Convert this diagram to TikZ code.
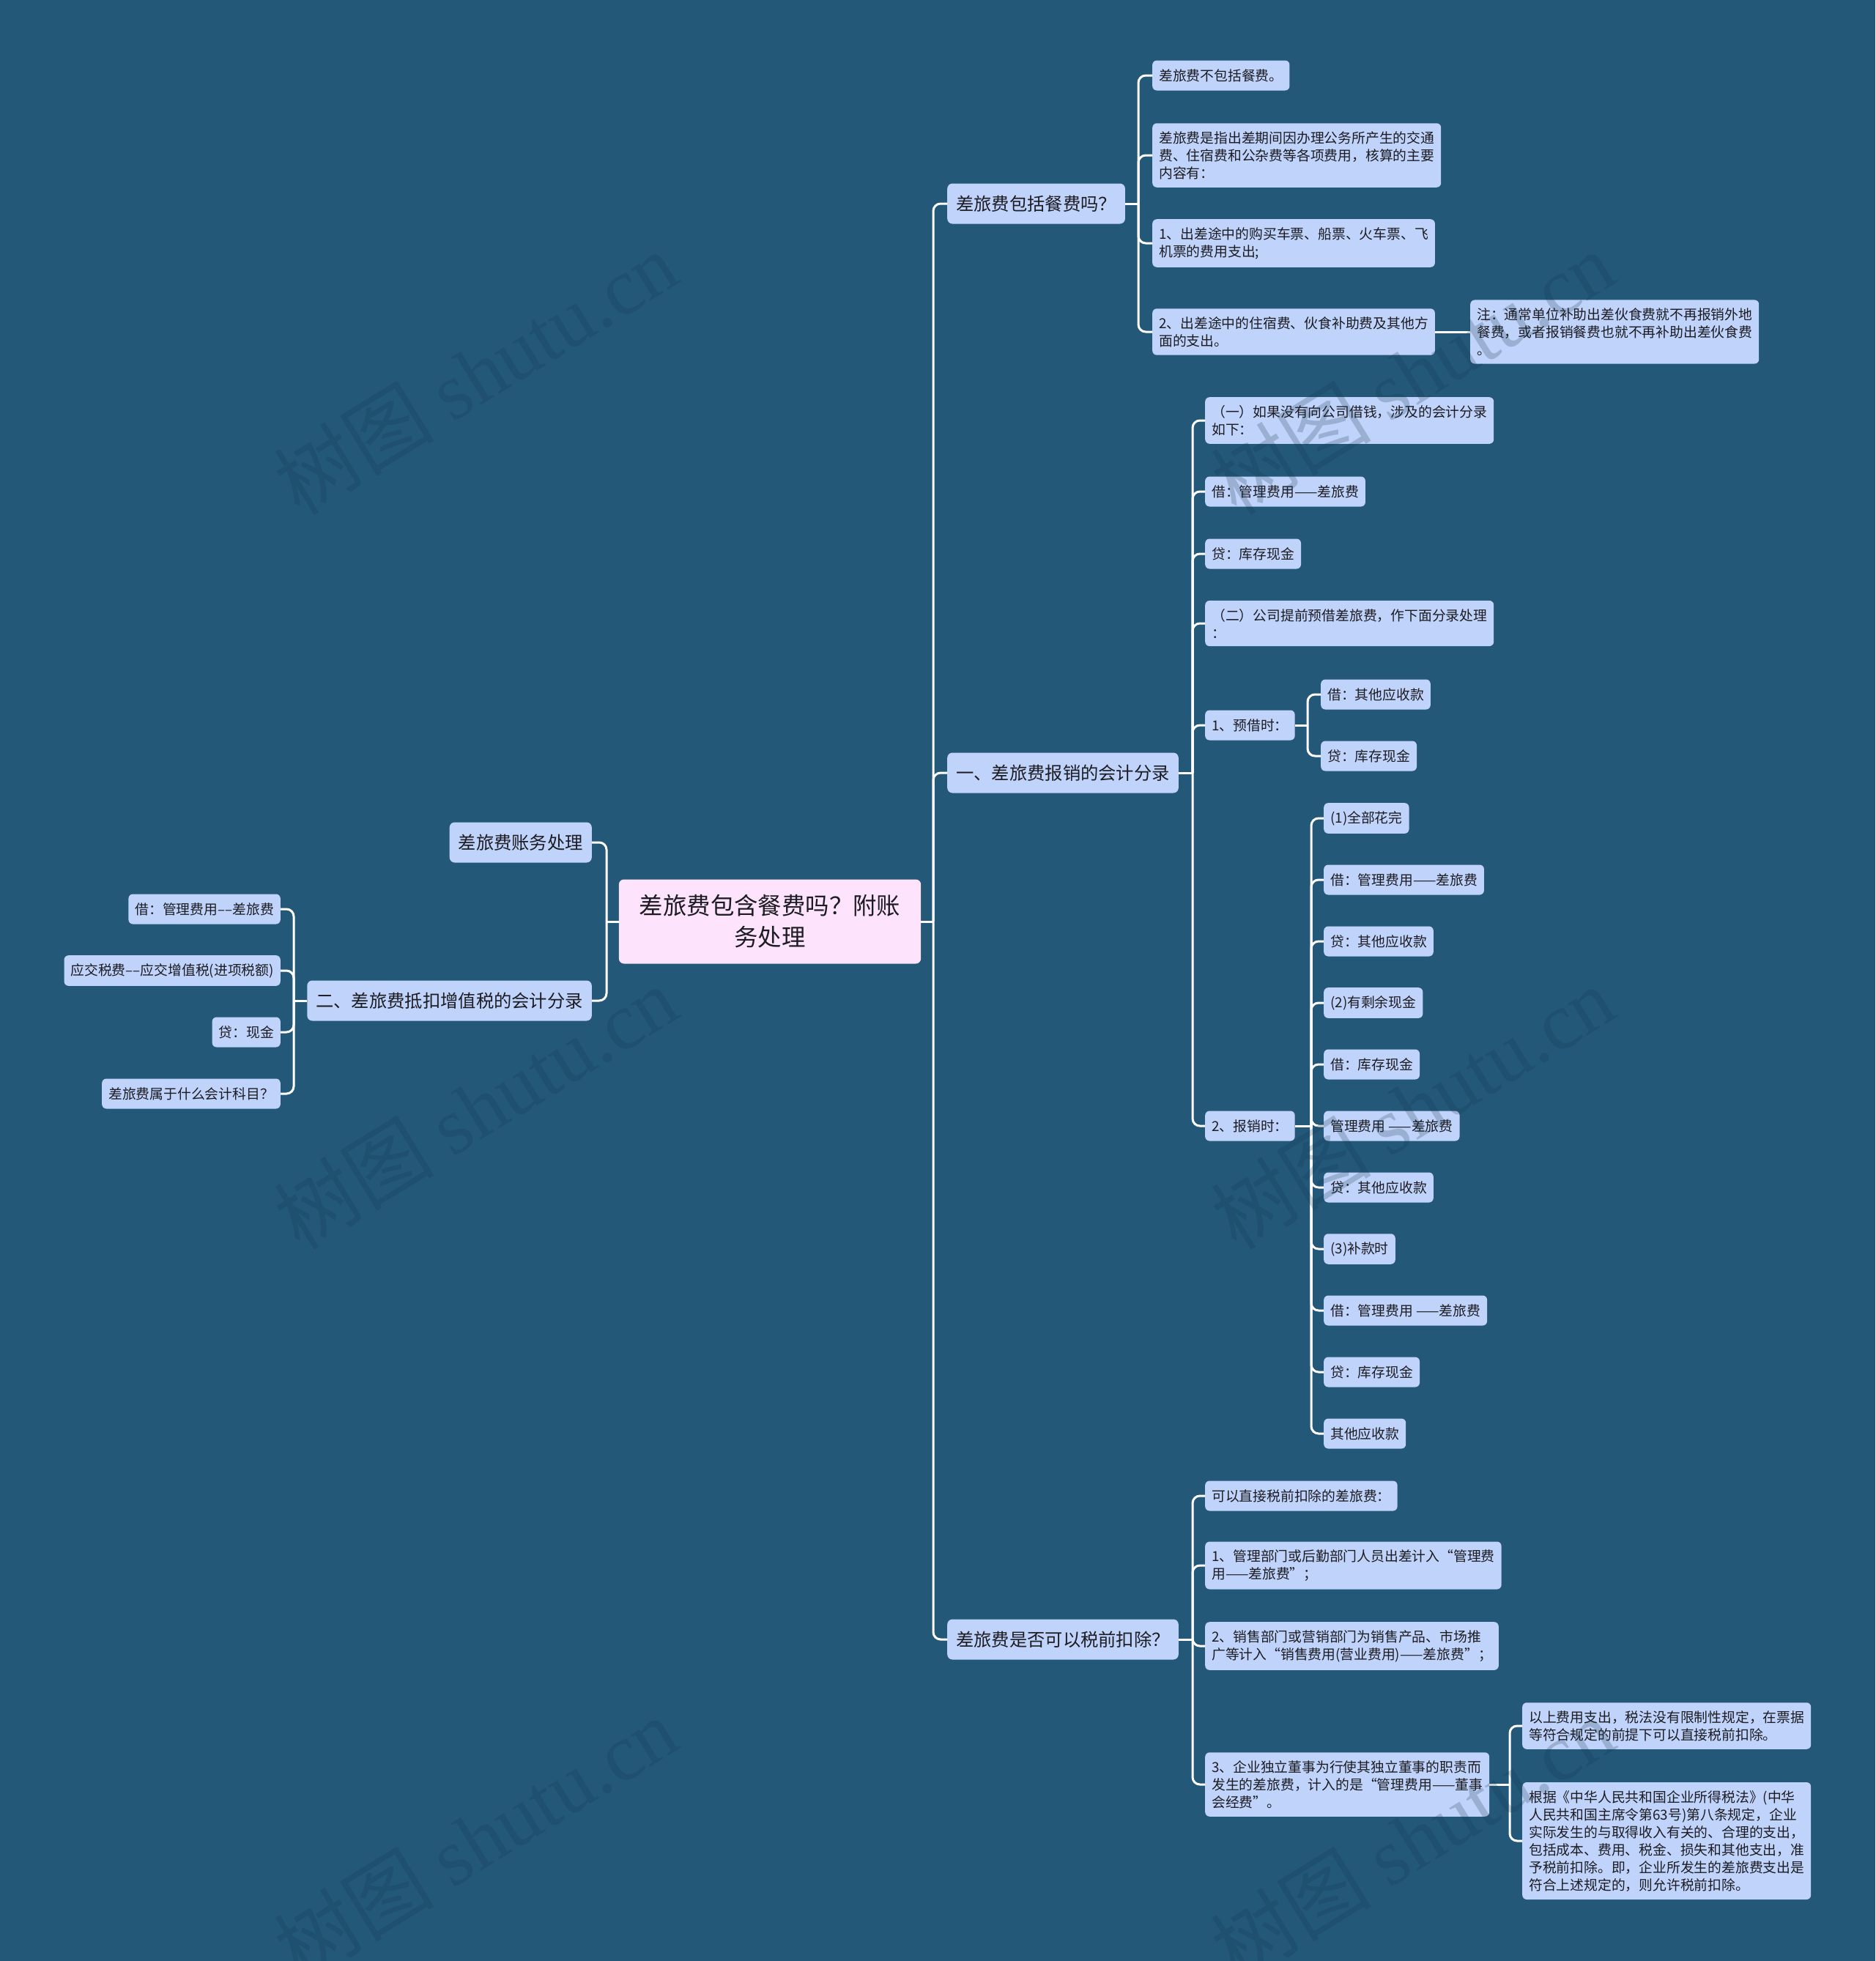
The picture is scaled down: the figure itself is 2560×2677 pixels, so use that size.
\documentclass[tikz,border=0pt]{standalone}
\usepackage{fontspec}
\newfontfamily\cjk{Noto Sans CJK SC}
\newfontfamily\wmserif{Liberation Serif}
\usepackage{tikz}
\usetikzlibrary{positioning,calc}
\definecolor{mapbg}{RGB}{35,88,121}
\definecolor{leafblue}{RGB}{192,211,250}
\definecolor{rootpink}{RGB}{253,227,252}
\definecolor{inkdark}{RGB}{28,28,34}
\definecolor{wmshade}{RGB}{20,52,76}
\tikzset{
  topic/.style={rectangle, rounded corners=7pt, fill=rootpink, text=inkdark,
                inner xsep=28pt, inner ysep=21pt, align=center,
                font=\cjk\fontsize{32.4}{43}\selectfont},
  branch/.style={rectangle, rounded corners=7pt, fill=leafblue, text=inkdark,
                 inner xsep=12pt, inner ysep=15pt, minimum height=55pt,
                 font=\cjk\fontsize{24.3}{30}\selectfont},
  leaf/.style={rectangle, rounded corners=6pt, fill=leafblue, text=inkdark,
               inner xsep=9pt, inner ysep=11pt, minimum height=41pt, align=left,
               font=\cjk\fontsize{18.8}{24}\selectfont},
  link/.style={draw=white, line width=3pt, rounded corners=10pt},
  wmark/.style={text=wmshade, opacity=0.22, rotate=31.6,
                font=\cjk\fontsize{110}{110}\selectfont},
}
\newcommand{\wmtext}{树图 {\wmserif shutu.cn}}

\begin{document}
\begin{tikzpicture}[x=1pt,y=-1pt]
  \fill[mapbg] (0,0) rectangle (2560,2677);
  \useasboundingbox (0,0) rectangle (2560,2677);
  % centre
  \node[topic] (root) at (1051,1258) {差旅费包含餐费吗？附账\\务处理};
  \coordinate (rootR) at (1274,1258);
  \coordinate (rootL) at (828,1258);
  % right branches
  \node[branch, anchor=west] (qa) at (1293,278)  {差旅费包括餐费吗？};
  \node[branch, anchor=west] (qb) at (1293,1055) {一、差旅费报销的会计分录};
  \node[branch, anchor=west] (qc) at (1293,2238) {差旅费是否可以税前扣除？};
  % left branches
  \node[branch, anchor=east] (qd) at (808,1150) {差旅费账务处理};
  \node[branch, anchor=east] (qe) at (808,1366) {二、差旅费抵扣增值税的会计分录};
  \draw[link] (root.east) -- (rootR);
  \draw[link] (root.west) -- (rootL);
  \foreach \n in {qa,qb,qc} \draw[link] (rootR) |- (\n.west);
  \foreach \n in {qd,qe} \draw[link] (rootL) |- (\n.east);

  % meals or not
  \node[leaf, anchor=west] (a1) at (1573,103) {差旅费不包括餐费。};
  \node[leaf, anchor=west] (a2) at (1573,212) {差旅费是指出差期间因办理公务所产生的交通\\费、住宿费和公杂费等各项费用，核算的主要\\内容有：};
  \node[leaf, anchor=west] (a3) at (1573,332) {1、出差途中的购买车票、船票、火车票、飞\\机票的费用支出;};
  \node[leaf, anchor=west] (a4) at (1573,453) {2、出差途中的住宿费、伙食补助费及其他方\\面的支出。};
  \node[leaf, anchor=west] (a4n) at (2007,453) {注：通常单位补助出差伙食费就不再报销外地\\餐费，或者报销餐费也就不再补助出差伙食费\\。};
  \coordinate (aT) at (1554,278);
  \draw[link] (qa.east) -- (aT);
  \foreach \n in {a1,a2,a3,a4} \draw[link] (aT) |- (\n.west);
  \draw[link] (a4.east) -- (a4n.west);

  % reimbursement entries
  \node[leaf, anchor=west] (b1) at (1645,574) {（一）如果没有向公司借钱，涉及的会计分录\\如下：};
  \node[leaf, anchor=west] (b2) at (1645,671) {借：管理费用——差旅费};
  \node[leaf, anchor=west] (b3) at (1645,756) {贷：库存现金};
  \node[leaf, anchor=west] (b4) at (1645,851) {（二）公司提前预借差旅费，作下面分录处理\\：};
  \node[leaf, anchor=west] (b5) at (1645,990) {1、预借时：};
  \node[leaf, anchor=west] (b6) at (1645,1537) {2、报销时：};
  \coordinate (bT) at (1628,1055);
  \draw[link] (qb.east) -- (bT);
  \foreach \n in {b1,b2,b3,b4,b5,b6} \draw[link] (bT) |- (\n.west);
  % advance
  \node[leaf, anchor=west] (b5a) at (1803,948)  {借：其他应收款};
  \node[leaf, anchor=west] (b5b) at (1803,1032) {贷：库存现金};
  \coordinate (b5T) at (1785,990);
  \draw[link] (b5.east) -- (b5T);
  \foreach \n in {b5a,b5b} \draw[link] (b5T) |- (\n.west);
  % settlement
  \foreach \t [count=\i from 0] in {{(1)全部花完},{借：管理费用——差旅费},{贷：其他应收款},
      {(2)有剩余现金},{借：库存现金},{管理费用 ——差旅费},{贷：其他应收款},
      {(3)补款时},{借：管理费用 ——差旅费},{贷：库存现金},{其他应收款}}
    \node[leaf, anchor=west] (r\i) at (1807,1117+84*\i) {\t};
  \coordinate (b6T) at (1790,1537);
  \draw[link] (b6.east) -- (b6T);
  \foreach \i in {0,...,10} \draw[link] (b6T) |- (r\i.west);

  % pre-tax deduction
  \node[leaf, anchor=west] (c1) at (1645,2042) {可以直接税前扣除的差旅费：};
  \node[leaf, anchor=west] (c2) at (1645,2137) {1、管理部门或后勤部门人员出差计入“管理费\\用——差旅费”；};
  \node[leaf, anchor=west] (c3) at (1645,2247) {2、销售部门或营销部门为销售产品、市场推\\广等计入“销售费用(营业费用)——差旅费”；};
  \node[leaf, anchor=west] (c4) at (1645,2436) {3、企业独立董事为行使其独立董事的职责而\\发生的差旅费，计入的是“管理费用——董事\\会经费”。};
  \coordinate (cT) at (1628,2238);
  \draw[link] (qc.east) -- (cT);
  \foreach \n in {c1,c2,c3,c4} \draw[link] (cT) |- (\n.west);
  \node[leaf, anchor=west] (c4a) at (2078,2356) {以上费用支出，税法没有限制性规定，在票据\\等符合规定的前提下可以直接税前扣除。};
  \node[leaf, anchor=west] (c4b) at (2078,2513) {根据《中华人民共和国企业所得税法》(中华\\人民共和国主席令第63号)第八条规定，企业\\实际发生的与取得收入有关的、合理的支出，\\包括成本、费用、税金、损失和其他支出，准\\予税前扣除。即，企业所发生的差旅费支出是\\符合上述规定的，则允许税前扣除。};
  \coordinate (c4T) at (2061,2436);
  \draw[link] (c4.east) -- (c4T);
  \foreach \n in {c4a,c4b} \draw[link] (c4T) |- (\n.west);

  % VAT entries
  \node[leaf, anchor=east] (e1) at (383,1241) {借：管理费用––差旅费};
  \node[leaf, anchor=east] (e2) at (383,1325) {应交税费––应交增值税(进项税额)};
  \node[leaf, anchor=east] (e3) at (383,1409) {贷：现金};
  \node[leaf, anchor=east] (e4) at (383,1493) {差旅费属于什么会计科目？};
  \coordinate (eT) at (401,1366);
  \draw[link] (qe.west) -- (eT);
  \foreach \n in {e1,e2,e3,e4} \draw[link] (eT) |- (\n.east);

  % watermarks
  \foreach \wx in {649,1928}
    \foreach \wy in {509,1512,2510}
      \node[wmark] (wm) at (\wx,\wy) {\wmtext};
\end{tikzpicture}
\end{document}
